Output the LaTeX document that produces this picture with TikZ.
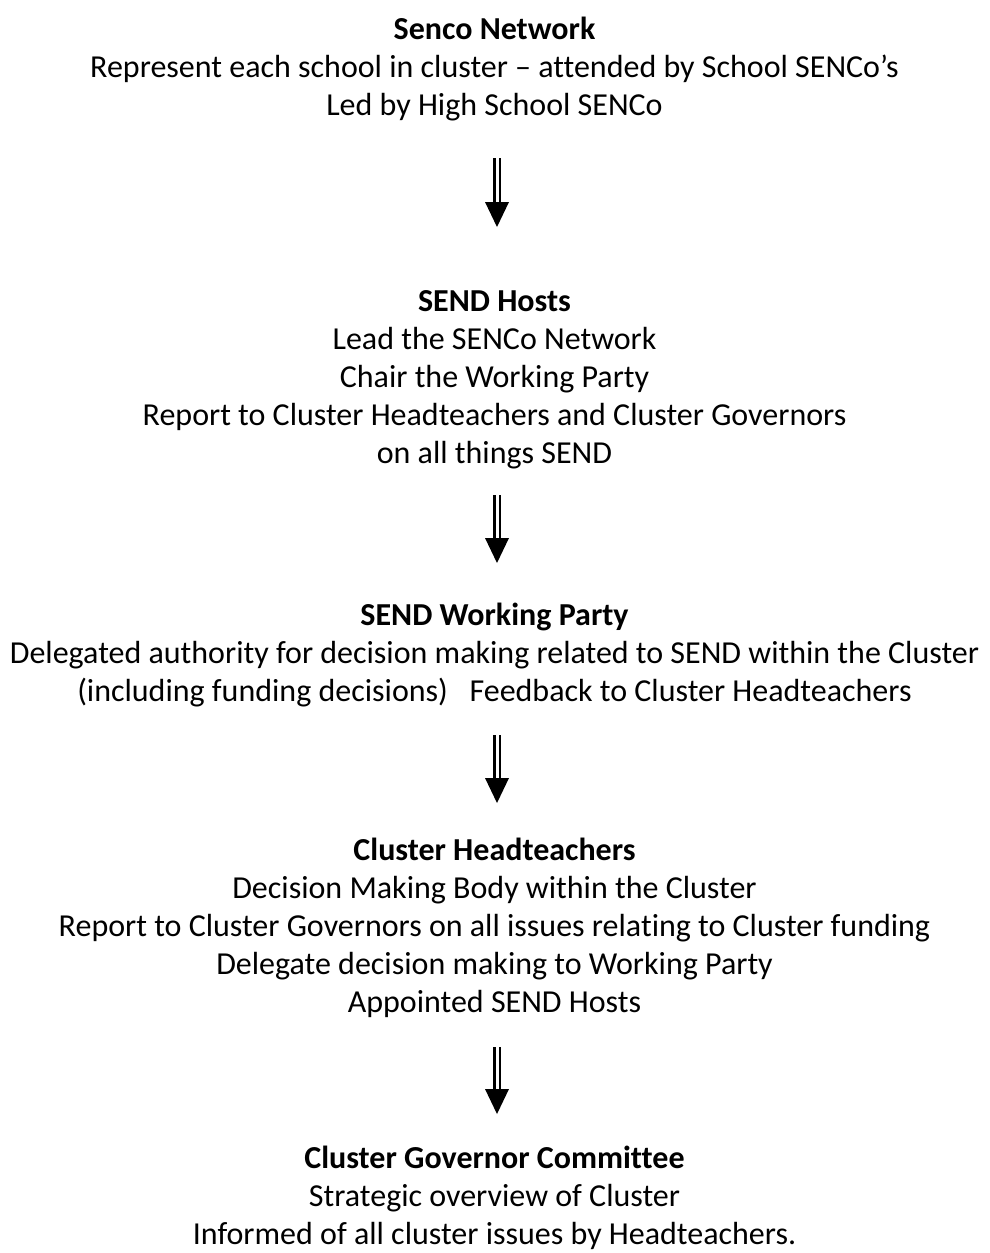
\documentclass[tikz,border=0pt]{standalone}
\usepackage{fontspec}
\setmainfont{Carlito}[Ligatures=NoCommon]
\usetikzlibrary{positioning,calc}
\tikzset{
	block/.style={align=center,inner sep=0pt,anchor=base,font=\fontsize{32}{38}\selectfont},
	shaft/.style={line width=2.2pt,double,double distance=3pt},
}
% two-line shaft with a solid head, from a top point down to the tip
\newcommand{\flowarrow}[2]{%
	\draw[shaft] (#1) -- ([yshift=20pt]#2);
	\fill ([shift={(-12pt,25pt)}]#2) -- ([shift={(12pt,25pt)}]#2) -- (#2) -- cycle;}
\begin{document}
\begin{tikzpicture}[x=1pt,y=1pt]
	\useasboundingbox (0,0) rectangle (989,-1253);
	% base anchor sits on the last line
	\node[block] (senco) at (494.5,-115) {\textbf{Senco Network}\\Represent each school in cluster – attended by School SENCo’s\\Led by High School SENCo};
	\node[block] (hosts) at (494.5,-463) {\textbf{SEND Hosts}\\Lead the SENCo Network\\Chair the Working Party\\Report to Cluster Headteachers and Cluster Governors\\on all things SEND};
	\node[block] (party) at (494.5,-701) {\textbf{SEND Working Party}\\Delegated authority for decision making related to SEND within the Cluster\\(including funding decisions)\ \ \ Feedback to Cluster Headteachers};
	\node[block] (heads) at (494.5,-1012) {\textbf{Cluster Headteachers}\\Decision Making Body within the Cluster\\Report to Cluster Governors on all issues relating to Cluster funding\\Delegate decision making to Working Party\\Appointed SEND Hosts};
	\node[block] (govs) at (494.5,-1244) {\textbf{Cluster Governor Committee}\\Strategic overview of Cluster\\Informed of all cluster issues by Headteachers.};
	%arrows
	\coordinate (top1) at (497,-158); \coordinate (tip1) at (497,-227);
	\coordinate (top2) at (497,-495); \coordinate (tip2) at (497,-563);
	\coordinate (top3) at (497,-735); \coordinate (tip3) at (497,-803);
	\coordinate (top4) at (497,-1047); \coordinate (tip4) at (497,-1114);
	\flowarrow{top1}{tip1}
	\flowarrow{top2}{tip2}
	\flowarrow{top3}{tip3}
	\flowarrow{top4}{tip4}
\end{tikzpicture}
\end{document}
